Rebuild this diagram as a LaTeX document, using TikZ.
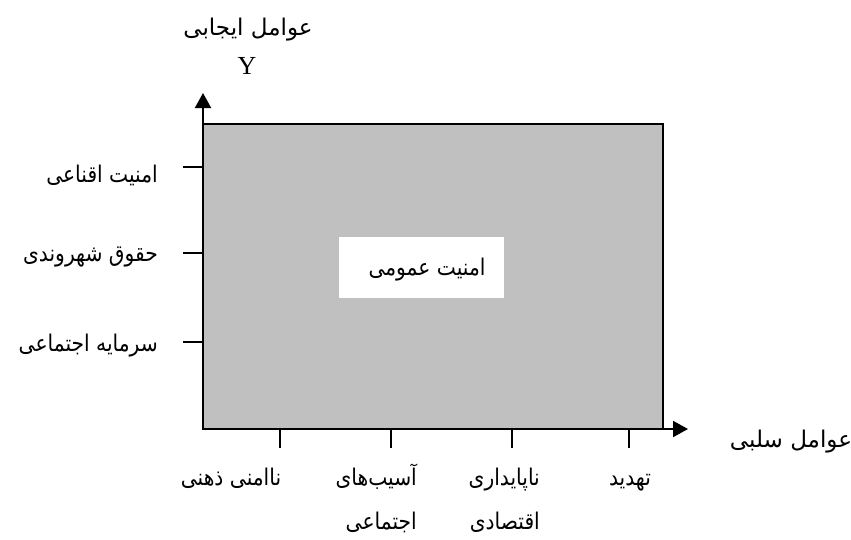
\documentclass[tikz,border=0pt]{standalone}
\usepackage{fontspec}
\setmainfont{Liberation Serif}
\newfontfamily\fa[Script=Arabic,FakeStretch=0.88]{DejaVu Sans}
\newfontfamily\fatitle[Script=Arabic]{DejaVu Sans}
\TeXXeTstate=1
\usetikzlibrary{arrows.meta}
\definecolor{areagray}{RGB}{192,192,192}
\tikzset{
  axis/.style={line width=2pt, -{Triangle[width=16pt,length=15pt]}},
  tick/.style={line width=2pt},
  lbl/.style={inner sep=0pt, font=\fa\fontsize{23}{44}\selectfont},
  ttl/.style={inner sep=0pt, font=\fatitle\fontsize{23}{27}\selectfont},
}
\begin{document}
\begin{tikzpicture}[x=1pt,y=-1pt]
\useasboundingbox (0,0) rectangle (851,539);
% shaded area
\node[draw, line width=2.2pt, fill=areagray, minimum width=460pt, minimum height=305pt, inner sep=0pt] (area) at (433,276.5) {};
% centre label
\node[fill=white, minimum width=165pt, minimum height=61pt, inner sep=0pt] (pub) at (421.5,267.5) {};
\node[lbl] (publbl) at (427,270) {\beginR امنیت عمومی\endR};
% axes
\coordinate (origin) at (203,429);
\coordinate (ytip) at (203,93);
\coordinate (xtip) at (688,429);
\draw[axis] (origin) -- (ytip);
\draw[axis] (origin) -- (xtip);
% y ticks
\foreach \n/\y in {t1/167, t2/253, t3/342}{
  \coordinate (\n a) at (183,\y);
  \coordinate (\n b) at (203,\y);
  \draw[tick] (\n a) -- (\n b);
}
% x ticks
\foreach \n/\x in {b1/280, b2/391, b3/512, b4/629}{
  \coordinate (\n a) at (\x,429);
  \coordinate (\n b) at (\x,448);
  \draw[tick] (\n a) -- (\n b);
}
% axis titles
\node[ttl] (ytitle) at (248,30) {\beginR عوامل ایجابی\endR};
\node[inner sep=0pt, font=\fontsize{26}{28}\selectfont] (ylet) at (247,66) {Y};
\node[ttl] (xtitle) at (791,442) {\beginR عوامل سلبی\endR};
% y labels
\node[lbl, anchor=east] (l1) at (158,175) {\beginR امنیت اقناعی\endR};
\node[lbl, anchor=east] (l2) at (158,257) {\beginR حقوق شهروندی\endR};
\node[lbl, anchor=east] (l3) at (158,346) {\beginR سرمایه اجتماعی\endR};
% x labels
\node[lbl, anchor=base] (x1) at (231,485) {\beginR ناامنی ذهنی\endR};
\node[lbl, anchor=base east, align=right] (x2) at (417,529) {\beginR آسیب‌های\endR\\\beginR اجتماعی\endR};
\node[lbl, anchor=base east, align=right] (x3) at (540,529) {\beginR ناپایداری\endR\\\beginR اقتصادی\endR};
\node[lbl, anchor=base] (x4) at (630,485) {\beginR تهدید\endR};
\end{tikzpicture}
\end{document}
